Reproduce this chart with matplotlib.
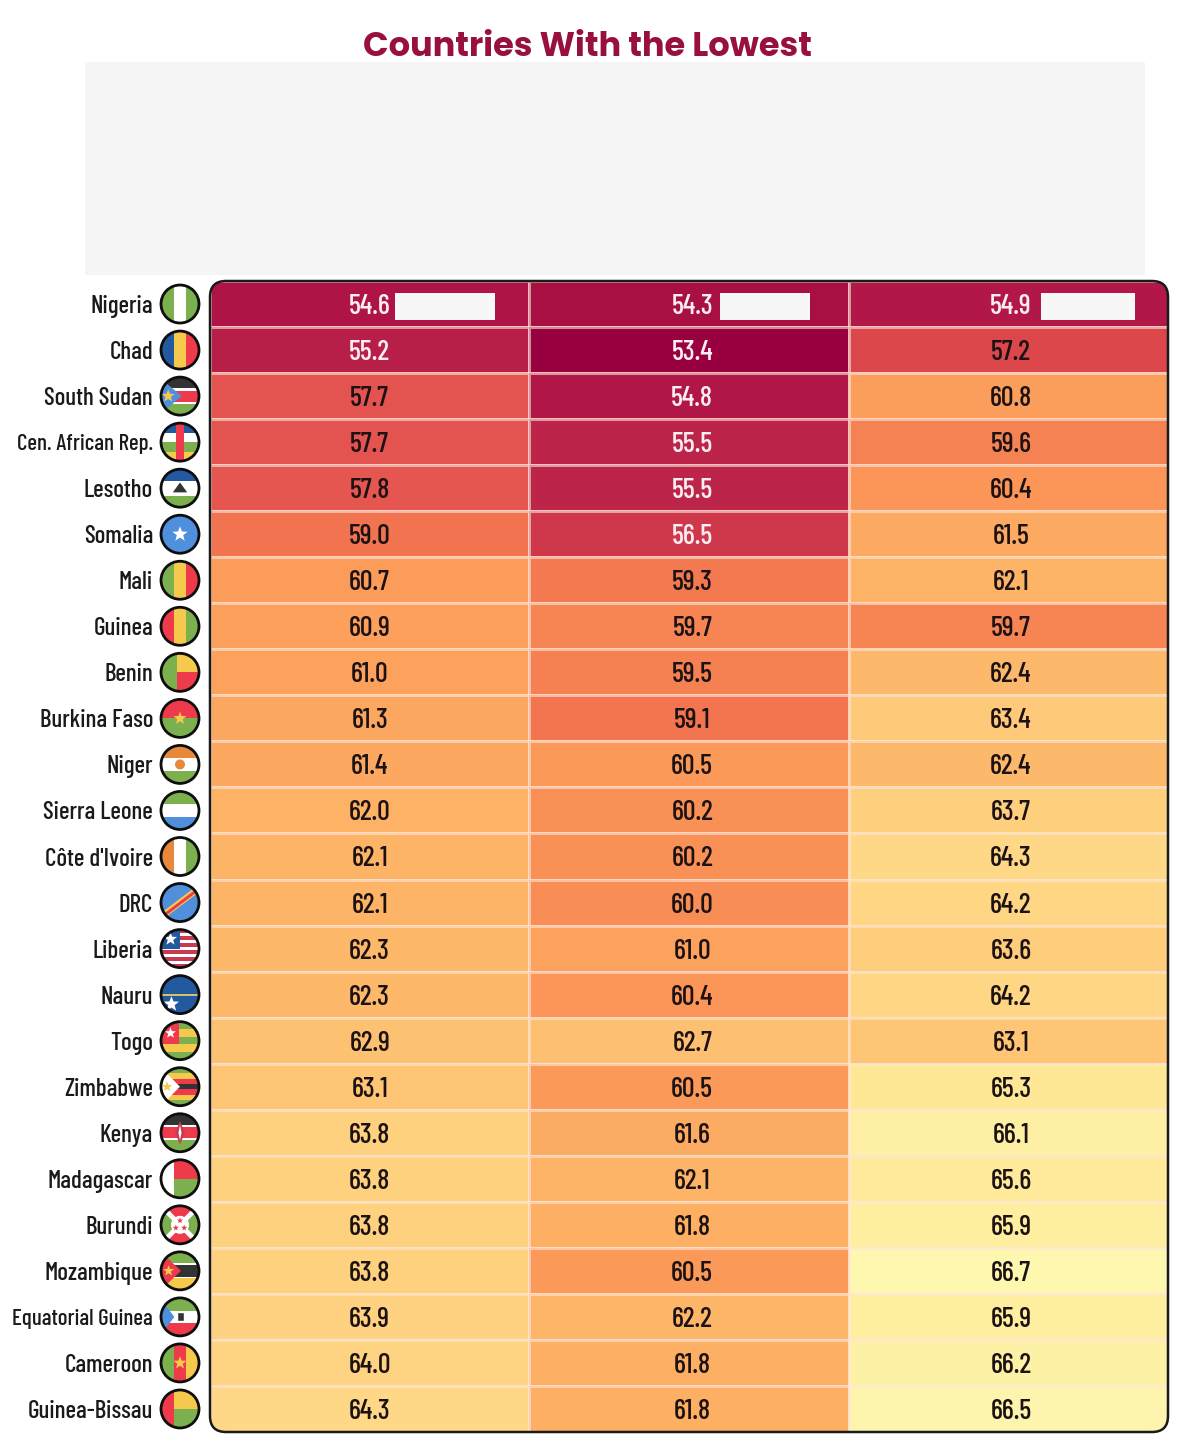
"""Heat table of the countries with the lowest values, with round flags."""

import matplotlib

matplotlib.use("Agg")
import matplotlib.pyplot as plt
import numpy as np
from matplotlib.colors import LinearSegmentedColormap
from matplotlib.patches import Circle, FancyBboxPatch, Polygon, Rectangle

COUNTRIES = [
    "Nigeria", "Chad", "South Sudan", "Cen. African Rep.", "Lesotho", "Somalia",
    "Mali", "Guinea", "Benin", "Burkina Faso", "Niger", "Sierra Leone",
    "Côte d'Ivoire", "DRC", "Liberia", "Nauru", "Togo", "Zimbabwe", "Kenya",
    "Madagascar", "Burundi", "Mozambique", "Equatorial Guinea", "Cameroon",
    "Guinea-Bissau",
]
COL_1 = [54.6, 55.2, 57.7, 57.7, 57.8, 59.0, 60.7, 60.9, 61.0, 61.3, 61.4, 62.0, 62.1,
         62.1, 62.3, 62.3, 62.9, 63.1, 63.8, 63.8, 63.8, 63.8, 63.9, 64.0, 64.3]
COL_2 = [54.3, 53.4, 54.8, 55.5, 55.5, 56.5, 59.3, 59.7, 59.5, 59.1, 60.5, 60.2, 60.2,
         60.0, 61.0, 60.4, 62.7, 60.5, 61.6, 62.1, 61.8, 60.5, 62.2, 61.8, 61.8]
COL_3 = [54.9, 57.2, 60.8, 59.6, 60.4, 61.5, 62.1, 59.7, 62.4, 63.4, 62.4, 63.7, 64.3,
         64.2, 63.6, 64.2, 63.1, 65.3, 66.1, 65.6, 65.9, 66.7, 65.9, 66.2, 66.5]

NARROW = ["Barlow Condensed", "Open Sans", "DejaVu Sans"]
GREEN, RED, YELLOW = "#7cb04f", "#ee3a4a", "#f4c94c"
BLUE, NAVY, DARK, ORANGE = "#4f8fdc", "#22599f", "#333333", "#e8883a"
WHITE = "#ffffff"

heat = LinearSegmentedColormap.from_list(
    "heat",
    [(0.00, "#98003f"), (0.09, "#ae1445"), (0.14, "#b81f49"), (0.285, "#dc474c"),
     (0.32, "#e3534f"), (0.43, "#f2764f"), (0.53, "#fb9858"), (0.65, "#fdb366"),
     (0.78, "#fed07e"), (0.90, "#fee795"), (1.00, "#fdf7b0")],
)


def add(ax, clip, patch):
    ax.add_patch(patch)
    patch.set_clip_path(clip)
    return patch


def hbands(ax, clip, cx, cy, colors, weights=None):
    weights = weights or [1] * len(colors)
    edges = np.cumsum([0] + list(weights)) / sum(weights)
    for c, a, b in zip(colors, edges[:-1], edges[1:]):
        add(ax, clip, Rectangle((cx - 19, cy - 19 + 38 * a), 38, 38 * (b - a) + 0.3, fc=c, lw=0))


def vbands(ax, clip, cx, cy, colors, weights=None):
    weights = weights or [1] * len(colors)
    edges = np.cumsum([0] + list(weights)) / sum(weights)
    for c, a, b in zip(colors, edges[:-1], edges[1:]):
        add(ax, clip, Rectangle((cx - 19 + 38 * a, cy - 19), 38 * (b - a) + 0.3, 38, fc=c, lw=0))


def poly(ax, clip, cx, cy, pts, color):
    # pts are in flag units, -1..1 across the circle
    add(ax, clip, Polygon([(cx + 19 * x, cy + 19 * y) for x, y in pts], fc=color, lw=0))


def star(ax, clip, cx, cy, x, y, r, color):
    ang = np.pi / 2 + np.arange(10) * np.pi / 5
    rad = np.where(np.arange(10) % 2 == 0, r, r * 0.42)
    poly(ax, clip, cx, cy, list(zip(x + rad * np.cos(ang), y - rad * np.sin(ang))), color)


def draw_flag(ax, name, cx, cy):
    clip = Circle((cx, cy), 19, transform=ax.transData)
    h = lambda colors, weights=None: hbands(ax, clip, cx, cy, colors, weights)
    v = lambda colors, weights=None: vbands(ax, clip, cx, cy, colors, weights)
    p = lambda pts, color: poly(ax, clip, cx, cy, pts, color)
    s = lambda x, y, r, color: star(ax, clip, cx, cy, x, y, r, color)
    if name == "Nigeria":
        v([GREEN, WHITE, GREEN])
    elif name == "Chad":
        v([NAVY, YELLOW, RED])
    elif name == "South Sudan":
        h([DARK, WHITE, RED, WHITE, GREEN], [5, 1, 5, 1, 5])
        p([(-1, -0.9), (0.1, 0), (-1, 0.9)], BLUE)
        s(-0.62, 0, 0.36, YELLOW)
    elif name == "Cen. African Rep.":
        h([NAVY, WHITE, GREEN, YELLOW])
        p([(-0.2, -1), (0.2, -1), (0.2, 1), (-0.2, 1)], RED)
    elif name == "Lesotho":
        h([NAVY, WHITE, GREEN], [3, 4, 3])
        p([(-0.38, 0.22), (0, -0.3), (0.38, 0.22)], DARK)
    elif name == "Somalia":
        v([BLUE])
        s(0, 0, 0.42, WHITE)
    elif name == "Mali":
        v([GREEN, YELLOW, RED])
    elif name == "Guinea":
        v([RED, YELLOW, GREEN])
    elif name == "Benin":
        h([YELLOW, RED])
        v([GREEN, "none"], [2, 3])
    elif name == "Burkina Faso":
        h([RED, GREEN])
        s(0, 0, 0.36, YELLOW)
    elif name == "Niger":
        h([ORANGE, WHITE, GREEN])
        add(ax, clip, Circle((cx, cy), 5, fc=ORANGE, lw=0))
    elif name == "Sierra Leone":
        h([GREEN, WHITE, BLUE])
    elif name == "Côte d'Ivoire":
        v([ORANGE, WHITE, GREEN])
    elif name == "DRC":
        v([BLUE])
        p([(-1, 0.55), (0.85, -0.85), (1, -0.55), (-0.85, 0.85)], YELLOW)
        p([(-1, 0.7), (0.9, -0.75), (0.95, -0.6), (-0.9, 0.82)], RED)
    elif name == "Liberia":
        h(["#c73b52", WHITE] * 5 + ["#c73b52"])
        add(ax, clip, Rectangle((cx - 19, cy - 19), 19, 19, fc=NAVY, lw=0))
        s(-0.5, -0.5, 0.36, WHITE)
    elif name == "Nauru":
        v([NAVY])
        h(["none", "#d6c06a", "none"], [10, 1, 10])
        s(-0.45, 0.5, 0.42, WHITE)
    elif name == "Togo":
        h([GREEN, YELLOW, GREEN, YELLOW, GREEN])
        add(ax, clip, Rectangle((cx - 19, cy - 19), 18, 22, fc=RED, lw=0))
        s(-0.5, -0.4, 0.3, WHITE)
    elif name == "Zimbabwe":
        h([GREEN, YELLOW, RED, DARK, RED, YELLOW, GREEN])
        p([(-1, -1), (0, 0), (-1, 1)], WHITE)
        s(-0.68, 0, 0.28, YELLOW)
    elif name == "Kenya":
        h([DARK, WHITE, RED, WHITE, GREEN], [6, 1, 6, 1, 6])
        p([(0, -0.62), (0.26, 0), (0, 0.62), (-0.26, 0)], "#c73b52")
        p([(0, -0.4), (0.08, 0), (0, 0.4), (-0.08, 0)], WHITE)
    elif name == "Madagascar":
        h([RED, GREEN])
        v([WHITE, "none"], [1, 2])
    elif name == "Burundi":
        h([RED, RED])
        p([(-1, -1), (0, 0), (-1, 1)], GREEN)
        p([(1, -1), (0, 0), (1, 1)], GREEN)
        for a, b in (((-1, -1), (1, 1)), ((-1, 1), (1, -1))):
            p([(a[0], a[1] - 0.18), (b[0], b[1] - 0.18), (b[0], b[1] + 0.18), (a[0], a[1] + 0.18)], WHITE)
        add(ax, clip, Circle((cx, cy), 9, fc=WHITE, lw=0))
        for x, y in ((0, -0.22), (-0.22, 0.16), (0.22, 0.16)):
            s(x, y, 0.17, RED)
    elif name == "Mozambique":
        h([GREEN, WHITE, DARK, WHITE, YELLOW], [6, 1, 6, 1, 6])
        p([(-1, -1), (0.05, 0), (-1, 1)], RED)
        s(-0.6, 0, 0.3, YELLOW)
    elif name == "Equatorial Guinea":
        h([GREEN, WHITE, RED])
        p([(-1, -0.95), (-0.3, 0), (-1, 0.95)], BLUE)
        add(ax, clip, Rectangle((cx - 3, cy - 5), 7, 9, fc=DARK, ec=WHITE, lw=1))
    elif name == "Cameroon":
        v([GREEN, RED, YELLOW])
        s(0, 0, 0.36, YELLOW)
    elif name == "Guinea-Bissau":
        h([YELLOW, GREEN])
        v([RED, "none"], [1, 2])
    ax.add_patch(Circle((cx, cy), 19, fc="none", ec="#0d0d0d", lw=2.0, zorder=5))


fig = plt.figure(figsize=(12, 14.42), dpi=100)

# page axes in pixel units, y down, for the title, flags and frame
page = fig.add_axes([0, 0, 1, 1], zorder=3)
page.set_xlim(0, 1200)
page.set_ylim(1442, 0)
page.axis("off")
page.patch.set_alpha(0)

page.add_patch(Rectangle((85, 62), 1060, 213, fc="#f5f5f5", lw=0))
page.text(587, 48, "Countries With the Lowest", ha="center", va="center", fontsize=24.2,
          family=["Poppins", "Inter", "DejaVu Sans"], fontweight="bold", color="#98103f")

values = np.array([COL_1, COL_2, COL_3]).T
n_rows, n_cols = values.shape
left, right, top, bottom = 210, 1168, 281, 1432

ax = fig.add_axes([left / 1200, 1 - bottom / 1442, (right - left) / 1200, (bottom - top) / 1442], zorder=1)
mesh = ax.pcolormesh(values, cmap=heat, vmin=53.4, vmax=66.7,
                     edgecolors=(1, 0.9, 0.85, 0.6), linewidth=0.8)
ax.set_ylim(n_rows, 0)
ax.set_xlim(0, n_cols)
for spine in ax.spines.values():
    spine.set_visible(False)
ax.set_xticks([])
ax.set_yticks(np.arange(n_rows) + 0.5)
ax.set_yticklabels(COUNTRIES, family=NARROW, fontsize=18, fontweight=500, color="#1a1a1a")
ax.tick_params(axis="y", length=0, pad=41)
for tick in ax.get_yticklabels():
    if len(tick.get_text()) > 15:
        tick.set_fontsize(16.5)

frame_clip = FancyBboxPatch((left + 14, top + 14), right - left - 28, bottom - top - 28,
                            boxstyle="round,pad=14,rounding_size=16", transform=page.transData,
                            fc="none", ec="#1a1a1a", lw=1.8)
page.add_patch(frame_clip)
mesh.set_clip_path(frame_clip)

for r in range(n_rows):
    for c in range(n_cols):
        v = values[r, c]
        ax.text(c + 0.5 + (0, 0.01, 0.008)[c], r + 0.5, f"{v:.1f}", ha="center", va="center_baseline",
                family=NARROW, fontsize=20.3, fontweight=500,
                color="#fbeef2" if v < 57 else "#1c1214")

# blanked-out boxes beside the first row
for x, w in ((395, 100), (720, 90), (1041, 94)):
    page.add_patch(Rectangle((x, 293), w, 27, fc="#f7f7f7", lw=0))

for i, name in enumerate(COUNTRIES):
    draw_flag(page, name, 180, top + (bottom - top) / n_rows * (i + 0.5))

fig.savefig("out.png", dpi=100)
